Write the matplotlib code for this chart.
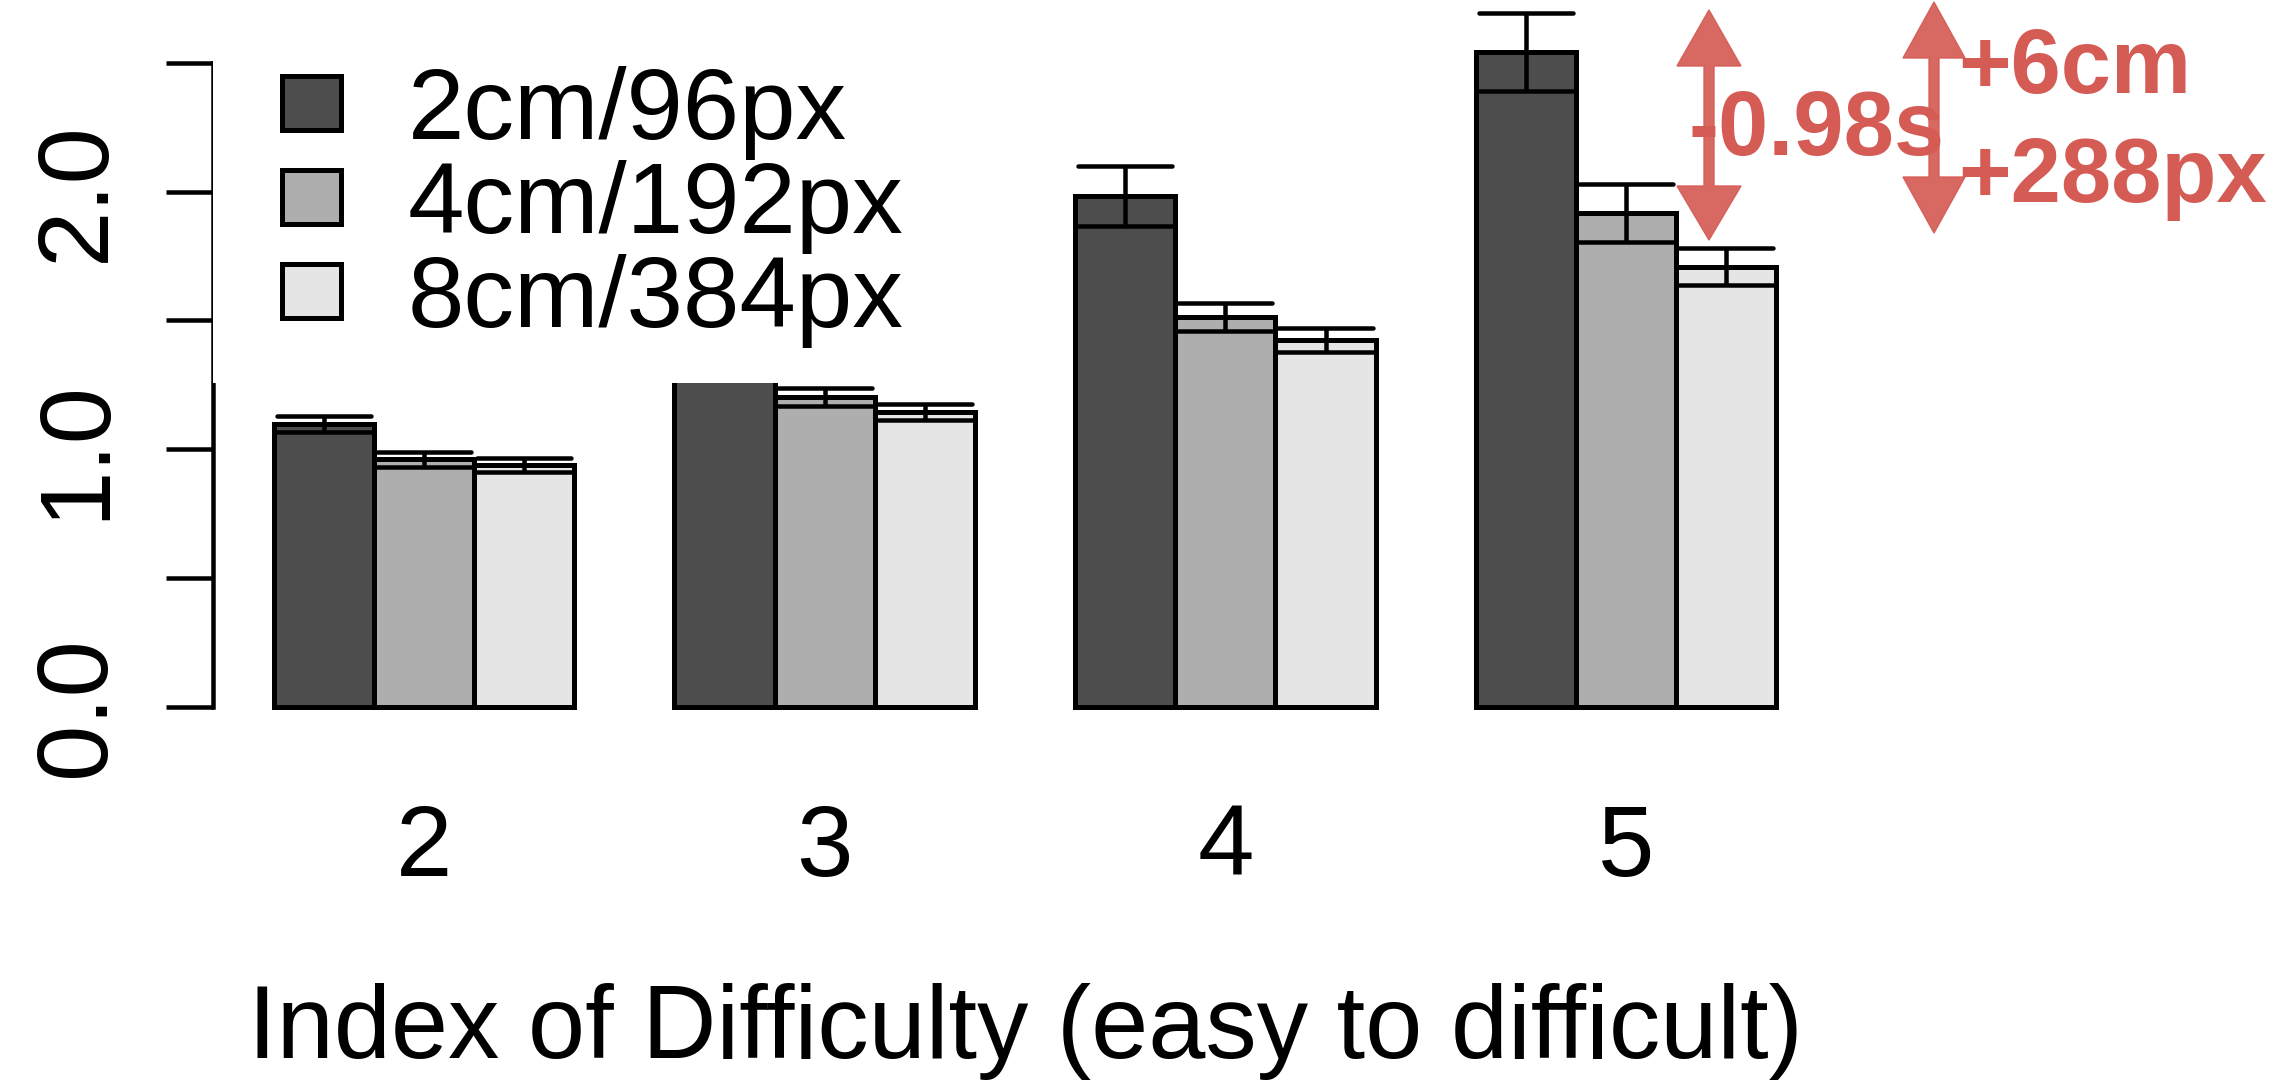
import matplotlib
matplotlib.use("Agg")
import matplotlib.pyplot as plt
from matplotlib.patches import Rectangle, Polygon

plt.rcParams["font.family"] = ["Liberation Sans", "DejaVu Sans"]

# Movement time (s) by index of difficulty and target size
difficulty = ["2", "3", "4", "5"]
size_labels = ["2cm/96px", "4cm/192px", "8cm/384px"]
time_2cm = [1.097, 1.32, 1.983, 2.543]
time_4cm = [0.960, 1.201, 1.514, 1.916]
time_8cm = [0.938, 1.145, 1.424, 1.708]
se_2cm = [0.032, 0.04, 0.118, 0.152]
se_4cm = [0.028, 0.035, 0.055, 0.113]
se_8cm = [0.027, 0.031, 0.047, 0.072]
fills = ["#4D4D4D", "#AEAEAE", "#E5E5E5"]

W, H = 2296, 1086
DPI = 100
fig = plt.figure(figsize=(W / DPI, H / DPI), dpi=DPI)

px = 72.0 / DPI  # points per pixel
# axes: x from 0.4 to 16.6 (bar units), y from -0.2 to 2.74
x0, x1 = 0.4, 16.6
y0, y1 = -0.2, 2.74
ax_left, ax_right = 213.4, 1836.6
ax_top, ax_bot = 1.05, 758.1
ax = fig.add_axes([ax_left / W, 1 - ax_bot / H,
                   (ax_right - ax_left) / W, (ax_bot - ax_top) / H])
ax.set_xlim(x0, x1)
ax.set_ylim(y0, y1)

series = [(time_2cm, se_2cm), (time_4cm, se_4cm), (time_8cm, se_8cm)]
lw_bar = 5 * px
lw_err = 4.5 * px
handles = []
for i, (vals, errs) in enumerate(series):
    lefts = [1 + 4 * g + i for g in range(len(difficulty))]
    bars = ax.bar(lefts, vals, width=1.0, align="edge", color=fills[i],
                  edgecolor="black", linewidth=lw_bar, label=size_labels[i],
                  zorder=1, clip_on=False)
    handles.append(bars)
    for l, v, e in zip(lefts, vals, errs):
        c = l + 0.5
        ax.plot([c, c], [v - e, v + e], color="black", lw=lw_err,
                solid_capstyle="butt", zorder=1.5, clip_on=False)
        for yy in (v - e, v + e):
            ax.plot([l + 0.03, l + 0.97], [yy, yy], color="black", lw=lw_err,
                    solid_capstyle="round", zorder=1.5, clip_on=False)

# y axis
for s in ("top", "right", "bottom"):
    ax.spines[s].set_visible(False)
ax.spines["left"].set_bounds(0, 2.5)
ax.spines["left"].set_linewidth(4.5 * px)
yt = [0, 0.5, 1.0, 1.5, 2.0, 2.5]
ax.set_yticks(yt)
ax.set_yticklabels(["0.0", "", "1.0", "", "2.0", ""], rotation=90,
                   va="center", fontsize=73)
ax.tick_params(axis="y", length=47 * px, width=4.5 * px, pad=30)

centers = [2.5 + 4 * g for g in range(len(difficulty))]
ax.set_xticks(centers)
ax.set_xticklabels(difficulty, fontsize=73)
ax.tick_params(axis="x", length=0, pad=32)
ax.set_xlabel("Index of Difficulty (easy to difficult)", fontsize=74,
              labelpad=62)

# white legend background
ax.add_patch(Rectangle((x0, 1.256), 7.45, 2.0, facecolor="white",
                       edgecolor="none", zorder=2.6, clip_on=True))

leg = ax.legend(handles=handles, labels=size_labels, loc="upper left",
                bbox_to_anchor=(282 / W, 1 - 66 / H),
                bbox_transform=fig.transFigure, frameon=False, fontsize=73,
                handlelength=0.58, handleheight=0.45, handletextpad=0.66,
                labelspacing=0.0, borderpad=0, borderaxespad=0)
leg.set_zorder(5)
for p in leg.get_patches():
    p.set_linewidth(5 * px)

# red annotations
red = "#D55B55"

def fpt(x, y):
    return (x / W, 1 - y / H)

def double_arrow(x, tip_top, base_top, base_bot, tip_bot, half_w, shaft):
    pts = [fpt(x, tip_top), fpt(x + half_w, base_top), fpt(x + shaft / 2, base_top),
           fpt(x + shaft / 2, base_bot), fpt(x + half_w, base_bot),
           fpt(x, tip_bot), fpt(x - half_w, base_bot), fpt(x - shaft / 2, base_bot),
           fpt(x - shaft / 2, base_top), fpt(x - half_w, base_top)]
    fig.patches.append(Polygon(pts, closed=True, transform=fig.transFigure,
                               facecolor=red, edgecolor=red, linewidth=1,
                               alpha=0.92, zorder=6))

double_arrow(1709, 10, 66, 186, 240, 32, 10)
double_arrow(1934, 2, 58, 177, 233, 31, 10)

fs_red = 65
fig.text(*fpt(1689, 155), "-0.98s", color=red, fontsize=fs_red,
         fontweight="bold", ha="left", va="baseline", zorder=7)
fig.text(*fpt(1958, 93), "+6cm", color=red, fontsize=fs_red,
         fontweight="bold", ha="left", va="baseline", zorder=7)
fig.text(*fpt(1958, 202), "+288px", color=red, fontsize=fs_red,
         fontweight="bold", ha="left", va="baseline", zorder=7)

fig.savefig("out.png", dpi=DPI)
